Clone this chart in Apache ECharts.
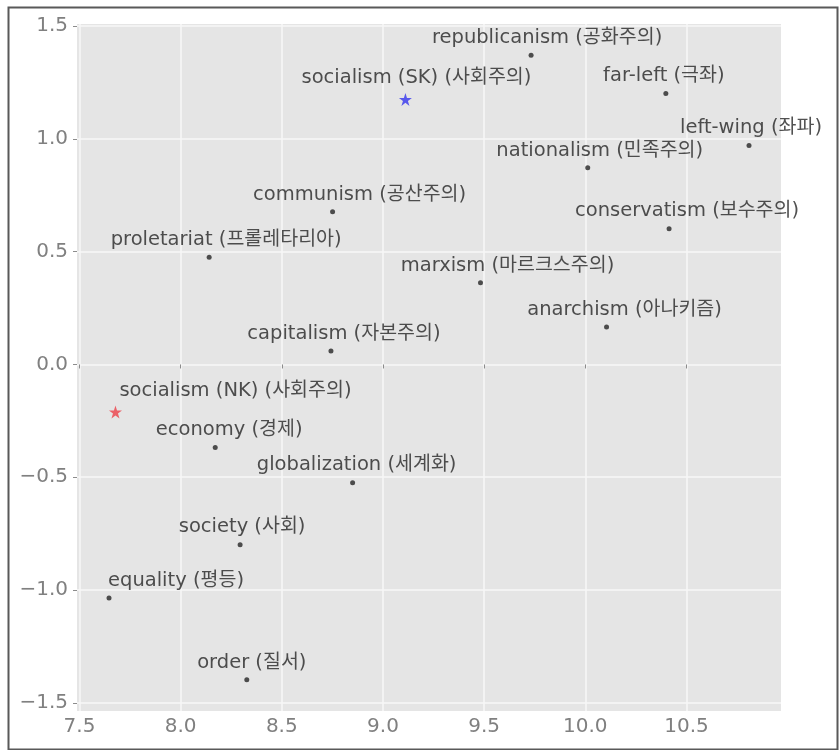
<!DOCTYPE html>
<html>
<head>
<meta charset="utf-8">
<script src="https://cdn.jsdelivr.net/npm/echarts@6/dist/echarts.min.js"></script>
<style>
html,body{margin:0;padding:0;background:#fff;}
#chart{width:839px;height:750px;}
</style>
</head>
<body>
<div id="chart"></div>
<script>
// ---- data ----
const words = ["republicanism (공화주의)","far-left (극좌)","left-wing (좌파)","nationalism (민족주의)",
  "conservatism (보수주의)","marxism (마르크스주의)","anarchism (아나키즘)","communism (공산주의)",
  "proletariat (프롤레타리아)","capitalism (자본주의)","economy (경제)","globalization (세계화)",
  "society (사회)","equality (평등)","order (질서)"];
const wordX = [9.732,10.398,10.809,10.012,10.414,9.482,10.105,8.751,8.141,8.743,8.171,8.850,8.294,7.646,8.327];
const wordY = [1.371,1.201,0.971,0.872,0.602,0.362,0.166,0.677,0.475,0.060,-0.368,-0.524,-0.799,-1.035,-1.398];

const skLabel = "socialism (SK) (사회주의)";
const skPoint = [9.111, 1.175];
const nkLabel = "socialism (NK) (사회주의)";
const nkPoint = [7.678, -0.211];

const xTicks = [7.5,8.0,8.5,9.0,9.5,10.0,10.5];
const yTicks = [-1.5,-1.0,-0.5,0.0,0.5,1.0,1.5];

// ---- style: horizontal label nudges (px), repel-style placement ----
const wordLabelNudge = [16,-2,2,12,18,27,18,27,17,13,14,4,2,67,5];
const skLabelNudge = 11;
const nkLabelNudge = 120;

// ggplot-style 5% expansion of the data range
const allX = wordX.concat([skPoint[0], nkPoint[0]]);
const allY = wordY.concat([skPoint[1], nkPoint[1]]);
function expand(arr){const mn=Math.min(...arr),mx=Math.max(...arr),r=mx-mn;return [mn-0.05*r,mx+0.05*r];}
const xr = expand(allX), yr = expand(allY);

const labelFont = {fontFamily:'"DejaVu Sans","Noto Sans CJK KR",sans-serif',fontSize:19.5,color:'#262626'};
const tickFont = {fontFamily:'"DejaVu Sans",sans-serif',fontSize:20,color:'#808080'};
const starPath = 'path://M50,0 L61.8,36.2 L100,36.2 L69.1,58.8 L80.9,95.1 L50,72.7 L19.1,95.1 L30.9,58.8 L0,36.2 L38.2,36.2 Z';

const chart = echarts.init(document.getElementById('chart'), null, {renderer:'canvas'});
const option = {
  animation:false,
  backgroundColor:'#ffffff',
  graphic:[{type:'rect',left:6,top:5,shape:{width:829,height:742},
    style:{fill:'none',stroke:'#595959',lineWidth:2},z:100,silent:true}],
  grid:{left:77,right:58,top:24,bottom:39,show:true,backgroundColor:'#e5e5e5',borderWidth:0},
  xAxis:{type:'value',min:xr[0],max:xr[1],
    axisLine:{show:false},
    axisTick:{show:true,length:4,lineStyle:{color:'#8c8c8c',width:1},customValues:xTicks},
    axisLabel:Object.assign({customValues:xTicks,margin:6,formatter:v=>v.toFixed(1)},tickFont),
    splitLine:{show:true,lineStyle:{color:'#f7f7f7',width:1.5}}},
  yAxis:{type:'value',min:yr[0],max:yr[1],
    axisLine:{show:false},
    axisTick:{show:true,length:4,lineStyle:{color:'#8c8c8c',width:1},customValues:yTicks},
    axisLabel:Object.assign({customValues:yTicks,margin:9,formatter:v=>v.toFixed(1).replace('-','−')},tickFont),
    splitLine:{show:true,lineStyle:{color:'#f7f7f7',width:1.5}}},
  series:[
    {type:'scatter',symbol:'circle',symbolSize:5,itemStyle:{color:'#262626'},
      data:words.map((w,i)=>({name:w,value:[wordX[i],wordY[i]],label:{offset:[wordLabelNudge[i],0]}})),
      label:Object.assign({show:true,position:'top',distance:5,formatter:p=>p.name},labelFont)},
    {type:'scatter',symbol:starPath,symbolSize:13,itemStyle:{color:'#3434ee'},
      data:[{name:skLabel,value:skPoint,label:{offset:[skLabelNudge,0]}}],
      label:Object.assign({show:true,position:'top',distance:5,formatter:p=>p.name},labelFont)},
    {type:'scatter',symbol:starPath,symbolSize:13,itemStyle:{color:'#ec4048'},
      data:[{name:nkLabel,value:nkPoint,label:{offset:[nkLabelNudge,0]}}],
      label:Object.assign({show:true,position:'top',distance:5,formatter:p=>p.name},labelFont)}
  ]
};
chart.setOption(option);
</script>
</body>
</html>
